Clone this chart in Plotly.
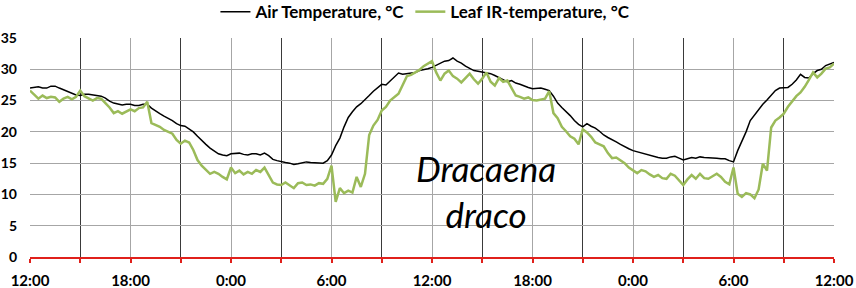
import pandas as pd
import plotly.graph_objects as go

# 15-minute readings over 48 h, starting 12:00
start = "2000-01-01 12:00"
air_temp = [
    27.0, 27.1, 27.2, 27.0, 27.0, 27.3, 27.3, 27.0, 26.7, 26.4, 26.2, 25.9, 25.8, 26.0, 26.0, 25.9,
    25.9, 25.7, 25.4, 24.9, 24.6, 24.5, 24.3, 24.4, 24.4, 24.2, 24.2, 24.4, 24.4, 23.8, 23.3, 22.9,
    22.5, 22.2, 21.8, 21.3, 21.0, 20.9, 20.5, 20.0, 19.3, 18.6, 18.0, 17.4, 16.9, 16.5, 16.3, 16.2,
    16.5, 16.6, 16.6, 16.4, 16.3, 16.5, 16.5, 16.3, 16.6, 16.2, 15.6, 15.4, 15.2, 15.1, 15.0, 14.8,
    14.9, 15.1, 15.2, 15.1, 15.1, 15.0, 15.0, 15.4, 16.3, 17.8, 19.0, 20.8, 22.3, 23.2, 24.0, 24.5,
    25.1, 25.8, 26.5, 27.1, 27.6, 27.5, 28.1, 28.7, 29.4, 29.2, 29.3, 29.5, 29.5, 29.8, 29.9, 30.1,
    30.3, 30.6, 30.9, 31.3, 31.4, 31.8, 31.3, 31.0, 30.5, 30.1, 29.8, 29.7, 29.6, 29.4, 29.3, 29.0,
    28.7, 28.3, 28.0, 28.2, 27.8, 27.6, 27.3, 27.1, 26.9, 27.0, 27.0, 26.8, 26.6, 25.7, 24.6, 23.9,
    23.3, 22.6, 21.8, 21.2, 20.8, 21.3, 20.9, 20.6, 20.1, 19.5, 19.1, 18.8, 18.4, 18.0, 17.6, 17.3,
    17.0, 16.8, 16.6, 16.4, 16.2, 16.0, 15.9, 15.8, 15.8, 16.0, 16.1, 15.8, 15.5, 15.7, 15.9, 15.8,
    16.0, 15.9, 15.9, 15.8, 15.8, 15.7, 15.7, 15.4, 15.2, 17.0, 18.5, 20.0, 21.8, 22.7, 23.5, 24.4,
    25.1, 25.8, 26.6, 27.0, 27.1, 27.1, 27.6, 28.3, 29.2, 28.7, 28.6, 29.3, 29.8, 30.0, 30.6, 30.9,
    31.1,
]
leaf_temp = [
    26.6, 26.0, 25.3, 25.8, 25.4, 25.6, 25.5, 24.8, 25.3, 25.6, 25.2, 25.6, 26.6, 25.7, 25.3, 25.0,
    25.4, 25.3, 24.6, 23.9, 23.0, 23.3, 22.9, 23.2, 23.6, 23.3, 23.8, 23.9, 24.8, 21.4, 21.1, 20.8,
    20.3, 20.0, 19.7, 18.7, 18.1, 18.6, 18.3, 17.1, 15.5, 14.6, 14.0, 13.3, 13.6, 13.3, 12.8, 12.4,
    14.3, 13.4, 13.8, 13.2, 13.6, 13.3, 13.9, 13.6, 14.3, 13.2, 11.9, 11.6, 11.5, 11.9, 11.4, 11.0,
    11.8, 11.9, 11.5, 11.6, 11.4, 11.8, 11.7, 12.5, 14.6, 8.8, 11.0, 10.2, 10.6, 10.3, 12.8, 11.2,
    13.3, 19.5, 21.0, 21.9, 23.4, 24.0, 25.0, 25.5, 26.1, 27.5, 28.9, 29.1, 29.5, 29.9, 30.5, 30.9,
    31.3, 29.5, 28.2, 29.3, 29.8, 28.9, 28.5, 27.9, 28.6, 29.3, 28.4, 27.7, 28.5, 29.5, 28.0, 27.4,
    28.6, 28.0, 28.2, 27.0, 25.8, 25.6, 25.3, 25.5, 25.1, 25.0, 25.2, 25.3, 26.5, 23.0, 22.2, 20.8,
    20.1, 19.3, 18.9, 18.0, 20.4, 19.9, 19.2, 18.3, 18.0, 17.7, 16.6, 15.8, 15.9, 15.4, 15.0, 14.3,
    13.9, 13.4, 13.9, 13.7, 13.2, 12.8, 13.1, 12.6, 12.5, 13.3, 13.0, 12.3, 11.5, 12.4, 13.1, 12.5,
    13.3, 12.6, 12.5, 12.9, 13.3, 12.8, 12.0, 11.6, 14.3, 10.1, 9.6, 10.2, 10.0, 9.4, 10.8, 14.9,
    13.8, 20.7, 21.8, 22.3, 22.9, 24.0, 24.8, 25.7, 26.3, 27.2, 28.3, 29.5, 28.7, 29.3, 30.1, 30.3,
    30.9,
]
tick_labels = ["12:00", "18:00", "0:00", "6:00", "12:00", "18:00", "0:00", "6:00", "12:00"]
y_ticks = [0, 5, 10, 15, 20, 25, 30, 35]
series_names = ["Air Temperature, °C", "Leaf IR-temperature, °C"]
label_text = "Dracaena<br>draco"

times = pd.date_range(start=start, periods=len(air_temp), freq="15min")
tick_vals = pd.date_range(start=start, periods=len(tick_labels), freq="6h")

fig = go.Figure()
fig.add_trace(go.Scatter(x=times, y=air_temp, mode="lines", name=series_names[0],
                         line=dict(color="#000000", width=1.5)))
fig.add_trace(go.Scatter(x=times, y=leaf_temp, mode="lines", name=series_names[1],
                         line=dict(color="#9BBB59", width=2.5)))

fig.add_annotation(text=label_text, xref="paper", yref="paper", x=0.567, y=0.30,
                   showarrow=False,
                   font=dict(family="Lato", size=35, color="#000", weight="normal", style="italic"),
                   align="center", xanchor="center", yanchor="middle")

fig.update_layout(
    width=856, height=288,
    margin=dict(l=30, r=22, t=38, b=31),
    paper_bgcolor="white", plot_bgcolor="white",
    font=dict(family="Lato", size=14, color="#000"),
    showlegend=True,
    legend=dict(orientation="h", x=0.497, xanchor="center", xref="container",
                y=0.958, yanchor="middle", yref="container",
                font=dict(size=17, weight="bold"), itemwidth=30, bgcolor="rgba(0,0,0,0)"),
)
fig.update_xaxes(
    range=[tick_vals[0], tick_vals[-1]], automargin=False,
    tickmode="array", tickvals=tick_vals, ticktext=tick_labels,
    showgrid=True, gridcolor="#A6A6A6", gridwidth=1.2,
    showline=True, linecolor="#E0201B", linewidth=2,
    ticks="outside", ticklen=4, tickcolor="#E0201B", tickwidth=1.5,
    ticklabelstandoff=5,
    minor=dict(tickmode="linear", tick0=tick_vals[0], dtick=3 * 3600 * 1000,
               showgrid=True, gridcolor="#3a3a3a", gridwidth=1,
               ticks="outside", ticklen=4, tickcolor="#E0201B", tickwidth=1.5),
    tickfont=dict(size=15, weight="bold"),
    zeroline=False,
)
fig.update_yaxes(
    range=[0, 35], tickmode="array", tickvals=y_ticks, automargin=False,
    showgrid=True, gridcolor="#A6A6A6", gridwidth=1.2,
    zeroline=False, showline=False, ticks="",
    ticklabelstandoff=12,
    tickfont=dict(size=14, weight="bold"),
)
fig.write_html("out.html", config={"displayModeBar": False},
               post_script="document.body.style.margin='0';document.body.style.padding='0';")
